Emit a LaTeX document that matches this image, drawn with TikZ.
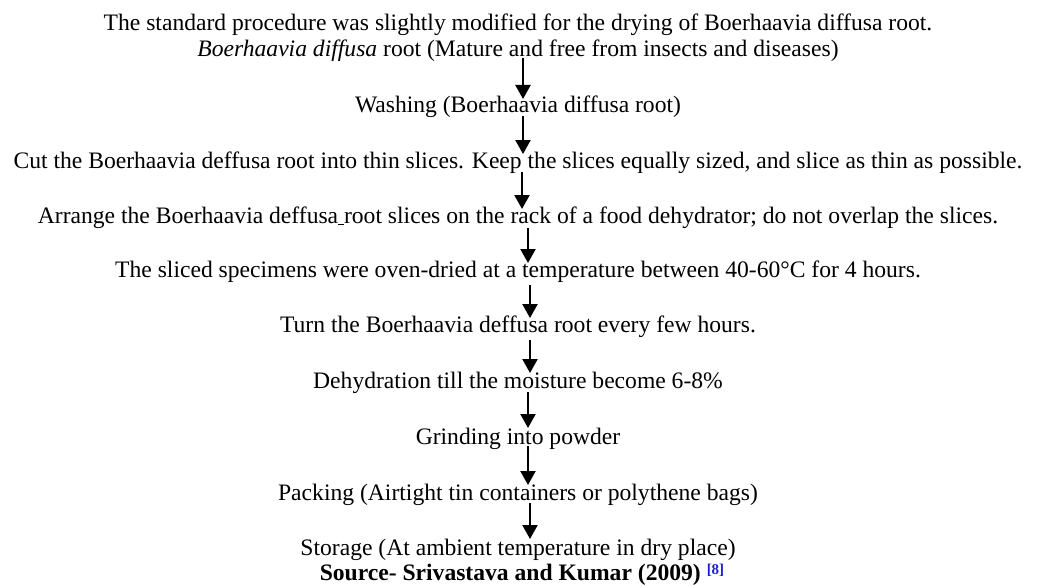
\documentclass[tikz,border=0pt]{standalone}
\usepackage{fontspec}
\setmainfont{Liberation Serif}
\usetikzlibrary{arrows.meta}
\definecolor{refblue}{RGB}{30,30,210}
\tikzset{
  txt/.style={anchor=base, inner sep=0pt, font=\fontsize{23.6}{28}\selectfont},
  flow/.style={line width=2.2pt, -{Triangle[width=15pt,length=14pt]}}
}
\begin{document}
\begin{tikzpicture}[x=1pt,y=-1pt]
\useasboundingbox (0,0) rectangle (1037,586);
\node[txt] (t0) at (518,31) {The standard procedure was slightly modified for the drying of Boerhaavia diffusa root.};
\node[txt] (t1) at (518,57) {\textit{Boerhaavia diffusa} root (Mature and free from insects and diseases)};
\node[txt] (t2) at (518,113) {Washing (Boerhaavia diffusa root)};
\node[txt] (t3) at (518,168) {Cut the Boerhaavia deffusa root into thin slices. Keep the slices equally sized, and slice as thin as possible.};
\node[txt] (t4) at (518,223) {Arrange the Boerhaavia deffusa\underline{\ }root slices on the rack of a food dehydrator; do not overlap the slices.};
\node[txt] (t5) at (518,277.5) {The sliced specimens were oven-dried at a temperature between 40-60°C for 4 hours.};
\node[txt] (t6) at (518,332.5) {Turn the Boerhaavia deffusa root every few hours.};
\node[txt] (t7) at (518,388) {Dehydration till the moisture become 6-8\%};
\node[txt] (t8) at (518,444) {Grinding into powder};
\node[txt] (t9) at (518,500) {Packing (Airtight tin containers or polythene bags)};
\node[txt] (t10) at (518,555) {Storage (At ambient temperature in dry place)};
\node[txt] (t11) at (522,580) {\textbf{Source- Srivastava and Kumar (2009) \raisebox{5.5pt}{\fontsize{15}{15}\selectfont\color{refblue}[8]}}};
\coordinate (a1) at (523,58);  \coordinate (b1) at (523,99);
\coordinate (a2) at (523,116); \coordinate (b2) at (523,154);
\coordinate (a3) at (522,172); \coordinate (b3) at (522,209);
\coordinate (a4) at (528,228); \coordinate (b4) at (528,263);
\coordinate (a5) at (530,285); \coordinate (b5) at (530,318);
\coordinate (a6) at (530,340); \coordinate (b6) at (530,373);
\coordinate (a7) at (528,392); \coordinate (b7) at (528,428);
\coordinate (a8) at (528,446); \coordinate (b8) at (528,485);
\coordinate (a9) at (530,503); \coordinate (b9) at (530,539);
\foreach \i in {1,...,9} { \draw[flow] (a\i) -- (b\i); }
\end{tikzpicture}
\end{document}
